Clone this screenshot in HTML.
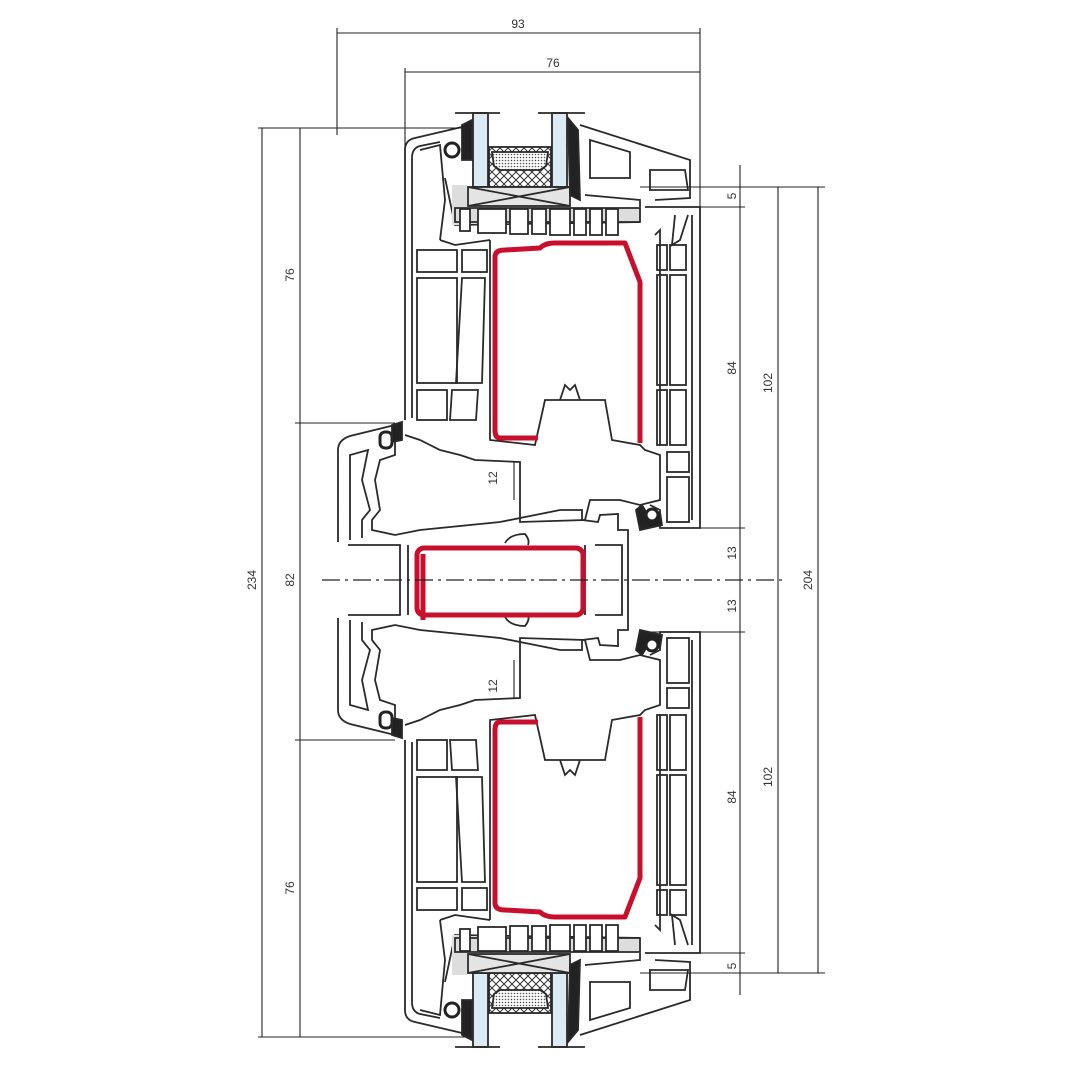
<!DOCTYPE html>
<html><head><meta charset="utf-8"><style>
html,body{margin:0;padding:0;background:#fff}
svg{display:block}
text{font-family:"Liberation Sans",sans-serif;font-size:12px;fill:#333}
</style></head><body>
<svg width="1080" height="1080" viewBox="0 0 1080 1080" xmlns="http://www.w3.org/2000/svg">
<defs>
<pattern id="xh" width="8" height="8" patternUnits="userSpaceOnUse"><path d="M0 0L8 8M8 0L0 8" stroke="#333" stroke-width="1"/></pattern>
<pattern id="dt" width="3" height="3" patternUnits="userSpaceOnUse"><rect width="3" height="3" fill="#fff"/><circle cx="1.5" cy="1.5" r="0.8" fill="#555"/></pattern>
<g id="half" fill="none" stroke="#2a2a2a" stroke-width="1.8">
  <rect x="473" y="113" width="15" height="74" fill="#dceaf4"/>
  <rect x="552" y="113" width="15" height="74" fill="#dceaf4"/>
  <line x1="455" y1="113" x2="500" y2="113"/><line x1="538" y1="113" x2="585" y2="113"/>
  <rect x="489" y="147" width="62" height="40" fill="url(#xh)"/>
  <path d="M492 152 L548 152 L546 166 L540 170 L500 170 L494 166Z" fill="url(#dt)"/>
  <rect x="468" y="187" width="102" height="19" fill="#e4e4e4"/>
  <path d="M468 187L570 206M570 187L468 206"/>
  <path d="M462 125 L472 120 L472 160 L462 160Z" fill="#222"/>
  <path d="M568 118 L578 130 L580 200 L570 195Z" fill="#222"/>
  <circle cx="452" cy="150" r="7" fill="#fff" stroke="#222" stroke-width="3"/>
  <!-- sash outer double wall -->
  <path d="M405 420 L405 150 Q405 140 415 138 L462 127"/>
  <path d="M412 418 L412 158 Q412 148 420 146 L440 142"/>
  <path d="M420 150 L440 145 L445 200 L440 240"/>
  <path d="M445 178 L455 225 L640 222"/>
  <path d="M440 240 L455 245 L490 240"/>
  <rect x="452" y="185" width="15" height="40" fill="#ddd" stroke="none"/>
  <path d="M455 208 L640 208 L640 222 L455 222Z" fill="#ddd"/>
  <g fill="#fff"><rect x="460" y="209" width="10" height="22"/><rect x="478" y="209" width="28" height="24"/><rect x="510" y="209" width="18" height="25"/><rect x="532" y="209" width="14" height="25"/><rect x="550" y="209" width="20" height="26"/><rect x="574" y="209" width="12" height="26"/><rect x="590" y="209" width="12" height="26"/><rect x="606" y="209" width="12" height="26"/></g>
  <!-- glazing bead right -->
  <path d="M580 125 L690 160 L690 198 L655 200 M585 195 L640 200 L640 207"/>
  <path d="M590 140 L630 152 L630 178 L590 178Z M650 170 L685 170 L688 190 L650 190Z"/>
  <!-- right frame -->
  <path d="M645 207 L700 207 L700 528 L660 528 L660 510 L650 505"/>
  <path d="M692 215 L692 520"/>
  <path d="M655 235 L660 230 L660 445 M675 215 L672 245 L680 240 L688 215"/>
  <g><rect x="657" y="245" width="10" height="25"/><rect x="670" y="245" width="16" height="25"/><rect x="657" y="275" width="10" height="110"/><rect x="670" y="275" width="16" height="110"/><rect x="657" y="390" width="10" height="55"/><rect x="670" y="390" width="16" height="55"/><rect x="667" y="452" width="22" height="20"/><rect x="667" y="477" width="22" height="45"/></g>
  <!-- left cells -->
  <g><rect x="417" y="250" width="40" height="22"/><rect x="462" y="250" width="25" height="22"/><rect x="417" y="278" width="40" height="105"/><path d="M462 278 L485 278 L482 383 L456 383Z"/><rect x="417" y="390" width="30" height="30"/><path d="M452 390 L478 390 L476 420 L450 420Z"/></g>
  <path d="M490 240 L490 440 L535 445 L545 400 L605 400 L612 440 L640 445 L645 450 L660 455 L660 500 L640 505 L620 500 L590 500 L585 520 L520 522 L520 462 L475 460 L460 455 L440 450 L420 440 L405 435"/>
  <path d="M560 400 L565 385 L570 390 L575 385 L580 400"/>
  <!-- middle profile -->
  <path d="M338 542 L338 450 Q338 440 350 436 L395 425 L395 455 L380 460 L375 480 L380 510 L372 520 L372 530 L395 535 L420 530 L500 522 L560 510 L582 510 L582 520 L598 522 L600 515 L618 514 L618 530 L628 530 L628 580"/>
  <path d="M350 540 L350 455 L368 450 L362 480 L370 510 L362 520 L362 538"/>
  <path d="M348 545 L400 545 L400 580 M408 545 L408 580 M585 545 L585 580 M595 545 L622 545 L622 580"/>
  <rect x="380" y="432" width="12" height="16" fill="#fff" stroke="#222" stroke-width="3" rx="5"/>
  <path d="M392 425 L402 422 L402 440 L392 442Z" fill="#222"/>
  <path d="M636 510 L642 505 L648 515 L660 512 L662 525 L640 530Z" fill="#222"/>
  <circle cx="652" cy="515" r="6" fill="#fff" stroke="#222" stroke-width="3"/>
  <path d="M505 543 Q510 534 525 534 Q530 540 528 545"/>
  <path d="M538 438 L500 438 Q495 438 495 430 L495 257 Q495 250 505 250 L540 248 Q545 243 555 243 L625 243 L640 282 L640 443" stroke="#c8102e" stroke-width="5" stroke-linejoin="round"/>
</g>
</defs>
<use href="#half"/>
<use href="#half" transform="translate(0,1160) scale(1,-1)"/>
<g fill="none" stroke="#c8102e" stroke-width="5" stroke-linejoin="round">
  <rect x="417" y="548" width="166" height="67" rx="7"/>
  <line x1="423" y1="554" x2="423" y2="620"/>
</g>
<line x1="322" y1="580" x2="785" y2="580" stroke="#222" stroke-width="1.2" stroke-dasharray="18,5,3,5"/>
<g stroke="#222" stroke-width="1.1" fill="none">
  <line x1="337" y1="28" x2="337" y2="135"/><line x1="700" y1="28" x2="700" y2="207"/>
  <line x1="337" y1="33" x2="700" y2="33"/>
  <line x1="405" y1="68" x2="405" y2="148"/><line x1="405" y1="72" x2="700" y2="72"/>
  <line x1="258" y1="128" x2="465" y2="128"/>
  <line x1="262" y1="128" x2="262" y2="1037"/>
  <line x1="300" y1="128" x2="300" y2="1037"/>
  <line x1="295" y1="423" x2="395" y2="423"/>
  <line x1="295" y1="740" x2="395" y2="740"/>
  <line x1="258" y1="1037" x2="465" y2="1037"/>
  <line x1="640" y1="187" x2="825" y2="187"/>
  <line x1="680" y1="207" x2="745" y2="207"/>
  <line x1="700" y1="528" x2="745" y2="528"/>
  <line x1="650" y1="632" x2="745" y2="632"/>
  <line x1="680" y1="953" x2="745" y2="953"/>
  <line x1="640" y1="973" x2="825" y2="973"/>
  <line x1="740" y1="165" x2="740" y2="995"/>
  <line x1="778" y1="187" x2="778" y2="973"/>
  <line x1="818" y1="187" x2="818" y2="973"/>
  <line x1="514" y1="462" x2="514" y2="500"/>
  <line x1="514" y1="660" x2="514" y2="698"/>
</g>
<g font-size="12">
  <text x="518" y="28" text-anchor="middle">93</text>
  <text x="553" y="67" text-anchor="middle">76</text>
  <text transform="translate(256,580) rotate(-90)" text-anchor="middle">234</text>
  <text transform="translate(294,275) rotate(-90)" text-anchor="middle">76</text>
  <text transform="translate(294,580) rotate(-90)" text-anchor="middle">82</text>
  <text transform="translate(294,888) rotate(-90)" text-anchor="middle">76</text>
  <text transform="translate(736,196) rotate(-90)" text-anchor="middle">5</text>
  <text transform="translate(736,368) rotate(-90)" text-anchor="middle">84</text>
  <text transform="translate(772,383) rotate(-90)" text-anchor="middle">102</text>
  <text transform="translate(736,553) rotate(-90)" text-anchor="middle">13</text>
  <text transform="translate(736,606) rotate(-90)" text-anchor="middle">13</text>
  <text transform="translate(812,580) rotate(-90)" text-anchor="middle">204</text>
  <text transform="translate(736,797) rotate(-90)" text-anchor="middle">84</text>
  <text transform="translate(772,777) rotate(-90)" text-anchor="middle">102</text>
  <text transform="translate(736,966) rotate(-90)" text-anchor="middle">5</text>
  <text transform="translate(497,478) rotate(-90)" text-anchor="middle">12</text>
  <text transform="translate(497,686) rotate(-90)" text-anchor="middle">12</text>
</g>
</svg>
</body></html>
